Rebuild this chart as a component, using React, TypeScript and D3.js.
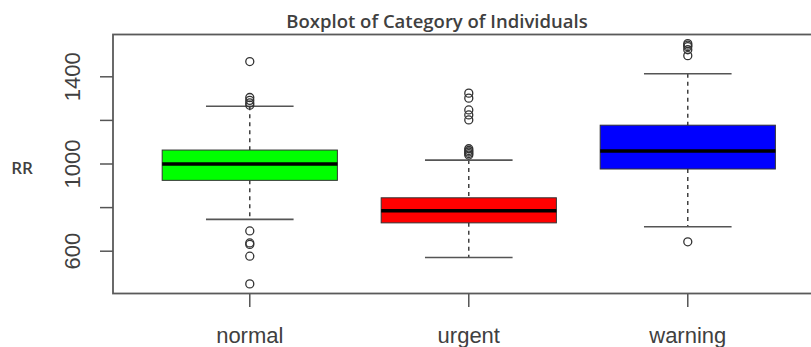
import React, { useEffect, useRef } from "react"
import * as d3 from "d3"

// values
const categories = ["normal", "urgent", "warning"]
const boxColors = ["#00ff00", "#ff0000", "#0000ff"]
const lowerWhisker = [746, 571, 712]
const firstQuartile = [925, 730, 977]
const medians = [1000, 785, 1060]
const thirdQuartile = [1064, 845, 1178]
const upperWhisker = [1265, 1018, 1414]
const outliers = [
  [1470, 1305, 1292, 1280, 1270, 693, 638, 631, 577, 450],
  [1325, 1302, 1248, 1225, 1202, 1070, 1062, 1055, 1048, 1041],
  [1552, 1545, 1538, 1524, 1497, 643],
]
const yTicks = [600, 800, 1000, 1200, 1400]
// R drops the labels that would overlap
const yTickLabels = [600, 1000, 1400]

const W = 811
const H = 347

export default function App() {
  const ref = useRef<SVGSVGElement>(null)

  useEffect(() => {
    const svg = d3.select(ref.current)
    svg.selectAll("*").remove()

    const x = d3.scaleLinear().domain([0.38, 3.62]).range([114, 114 + 3.24 * 219])
    const y = d3.scaleLinear().domain([406, 1594]).range([293.5, 34.5])
    const step = x(2) - x(1)
    const boxW = step * 0.8
    const capW = step * 0.4

    svg.append("rect").attr("width", W).attr("height", H).attr("fill", "#fff")

    // title + y label
    svg.append("text")
      .attr("x", 437).attr("y", 28)
      .attr("text-anchor", "middle")
      .attr("font-family", "Open Sans")
      .attr("font-weight", 600)
      .attr("font-size", 18.5)
      .attr("fill", "#404040")
      .text("Boxplot of Category of Individuals")
    svg.append("text")
      .attr("x", 22).attr("y", 174)
      .attr("text-anchor", "middle")
      .attr("font-family", "Open Sans")
      .attr("font-weight", 600)
      .attr("font-size", 17)
      .attr("fill", "#404040")
      .text("RR")

    const g = svg.append("g")

    categories.forEach((c, i) => {
      const cx = x(i + 1)
      // dashed whiskers
      g.append("line")
        .attr("x1", cx).attr("x2", cx)
        .attr("y1", y(upperWhisker[i])).attr("y2", y(thirdQuartile[i]))
        .attr("stroke", "#333").attr("stroke-width", 1.4).attr("stroke-dasharray", "4,4")
      g.append("line")
        .attr("x1", cx).attr("x2", cx)
        .attr("y1", y(firstQuartile[i])).attr("y2", y(lowerWhisker[i]))
        .attr("stroke", "#333").attr("stroke-width", 1.4).attr("stroke-dasharray", "4,4")
      // caps
      ;[upperWhisker[i], lowerWhisker[i]].forEach(v => {
        g.append("line")
          .attr("x1", cx - capW / 2).attr("x2", cx + capW / 2)
          .attr("y1", y(v)).attr("y2", y(v))
          .attr("stroke", "#555").attr("stroke-width", 1.6)
      })
      // box
      g.append("rect")
        .attr("x", cx - boxW / 2).attr("width", boxW)
        .attr("y", y(thirdQuartile[i]))
        .attr("height", y(firstQuartile[i]) - y(thirdQuartile[i]))
        .attr("fill", boxColors[i]).attr("stroke", "#333").attr("stroke-width", 1)
      g.append("line")
        .attr("x1", cx - boxW / 2).attr("x2", cx + boxW / 2)
        .attr("y1", y(medians[i])).attr("y2", y(medians[i]))
        .attr("stroke", "#000").attr("stroke-width", 3.5)
      // outliers
      g.selectAll(null).data(outliers[i]).join("circle")
        .attr("cx", cx).attr("cy", d => y(d)).attr("r", 4)
        .attr("fill", "none").attr("stroke", "#333").attr("stroke-width", 1.3)
    })

    // frame (right side runs off the picture)
    svg.append("rect")
      .attr("x", 113).attr("y", 34.5)
      .attr("width", 730).attr("height", 259)
      .attr("fill", "none").attr("stroke", "#5a5a5a").attr("stroke-width", 1.8)

    // y axis
    const ya = svg.append("g")
    yTicks.forEach(t => {
      ya.append("line").attr("x1", 113).attr("x2", 100)
        .attr("y1", y(t)).attr("y2", y(t))
        .attr("stroke", "#555").attr("stroke-width", 1.5)
    })
    yTickLabels.forEach(t => {
      ya.append("text")
        .attr("transform", `translate(80,${y(t)}) rotate(-90)`)
        .attr("text-anchor", "middle")
        .attr("font-family", "Liberation Sans")
        .attr("font-size", 22)
        .attr("fill", "#404040")
        .text(t)
    })

    // x axis
    const xa = svg.append("g")
    categories.forEach((c, i) => {
      xa.append("line").attr("x1", x(i + 1)).attr("x2", x(i + 1))
        .attr("y1", 294).attr("y2", 307)
        .attr("stroke", "#555").attr("stroke-width", 1.5)
      xa.append("text")
        .attr("x", x(i + 1)).attr("y", 343)
        .attr("text-anchor", "middle")
        .attr("font-family", "Liberation Sans")
        .attr("font-size", 22)
        .attr("fill", "#404040")
        .text(c)
    })
  }, [])

  return <svg ref={ref} width={W} height={H} style={{ position: "absolute", left: 0, top: 0 }} />
}
